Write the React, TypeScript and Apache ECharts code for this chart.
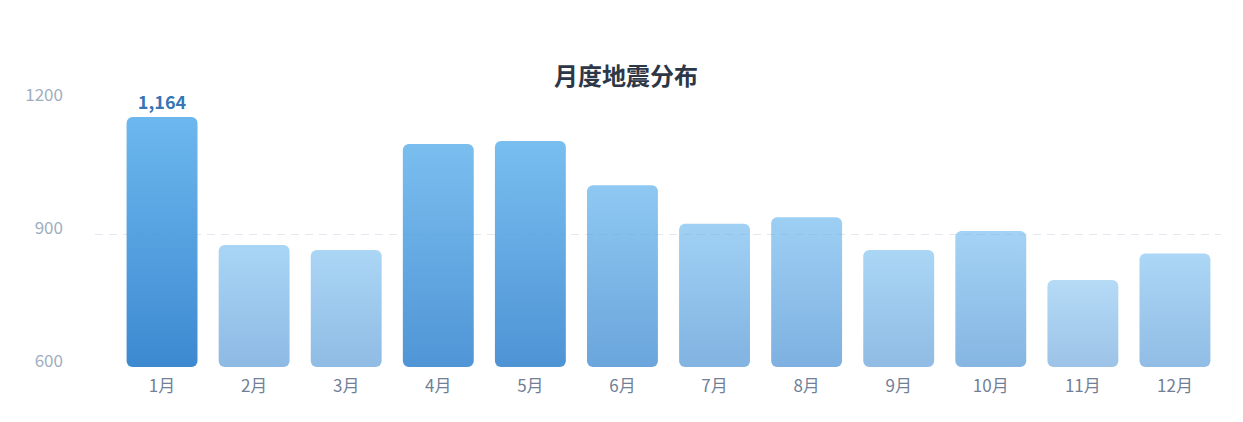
import { useEffect, useRef } from 'react';
import * as echarts from 'echarts';

const months = ['1月', '2月', '3月', '4月', '5月', '6月', '7月', '8月', '9月', '10月', '11月', '12月'];
const quakes = [1164, 875, 864, 1103, 1110, 1010, 923, 938, 864, 907, 796, 856];
const yTicks = { min: 600, max: 1200, step: 300 };

const FONT = '"Noto Sans CJK SC", "Noto Sans", sans-serif';

export default function App() {
  const ref = useRef<HTMLDivElement>(null);

  useEffect(() => {
    if (!ref.current) return;
    const chart = echarts.init(ref.current, null, { renderer: 'svg' });

    const hi = Math.max(...quakes);
    const lo = Math.min(...quakes);

    // darker bars for busier months
    const data = quakes.map((v) => {
      const t = (v - lo) / (hi - lo);
      return {
        value: v,
        itemStyle: { opacity: 0.48 + 0.46 * Math.pow(t, 1.2) },
        label: { show: v === hi },
      };
    });

    chart.setOption({
      animation: false,
      title: {
        text: '月度地震分布',
        left: 618,
        top: 54,
        padding: 0,
        textAlign: 'center',
        textStyle: { fontFamily: FONT, fontSize: 24, fontWeight: 'bold', color: '#2d3748' },
      },
      grid: [
        { left: 108, right: 14, top: 93, bottom: 47 },
        { left: 87, right: 14, top: 93, bottom: 47 },
      ],
      xAxis: [
        {
          type: 'category',
          gridIndex: 0,
          data: months,
          axisLine: { show: false },
          axisTick: { show: false },
          axisLabel: { margin: 9, color: '#718096', fontSize: 17, fontFamily: FONT },
        },
        { type: 'value', gridIndex: 1, min: 0, max: 1, show: false },
      ],
      yAxis: [
        {
          type: 'value',
          gridIndex: 0,
          min: yTicks.min,
          max: yTicks.max,
          interval: yTicks.step,
          show: false,
        },
        {
          type: 'value',
          gridIndex: 1,
          min: yTicks.min,
          max: yTicks.max,
          interval: yTicks.step,
          axisLine: { show: false },
          axisTick: { show: false },
          axisLabel: {
            margin: 32,
            color: '#a0aec0',
            fontSize: 17,
            fontFamily: FONT,
            verticalAlign: 'bottom',
            lineHeight: 16,
            formatter: (v: number) => String(v),
          },
          splitLine: {
            show: true,
            showMinLine: false,
            showMaxLine: false,
            lineStyle: { color: '#e2e8f0', type: [8, 6], width: 1 },
          },
        },
      ],
      series: [
        {
          type: 'bar',
          xAxisIndex: 0,
          yAxisIndex: 0,
          barWidth: '77%',
          data,
          itemStyle: {
            borderRadius: 6,
            color: new echarts.graphic.LinearGradient(0, 0, 0, 1, [
              { offset: 0, color: '#63b3ed' },
              { offset: 1, color: '#3182ce' },
            ]),
          },
          label: {
            position: 'top',
            distance: 7,
            color: '#2b6cb0',
            fontSize: 18,
            fontWeight: 'bold',
            fontFamily: FONT,
            formatter: (p: { value: number }) => p.value.toLocaleString('en-US'),
          },
        },
      ],
    });

    return () => chart.dispose();
  }, []);

  return <div ref={ref} style={{ width: '100%', height: '406px' }} />;
}
